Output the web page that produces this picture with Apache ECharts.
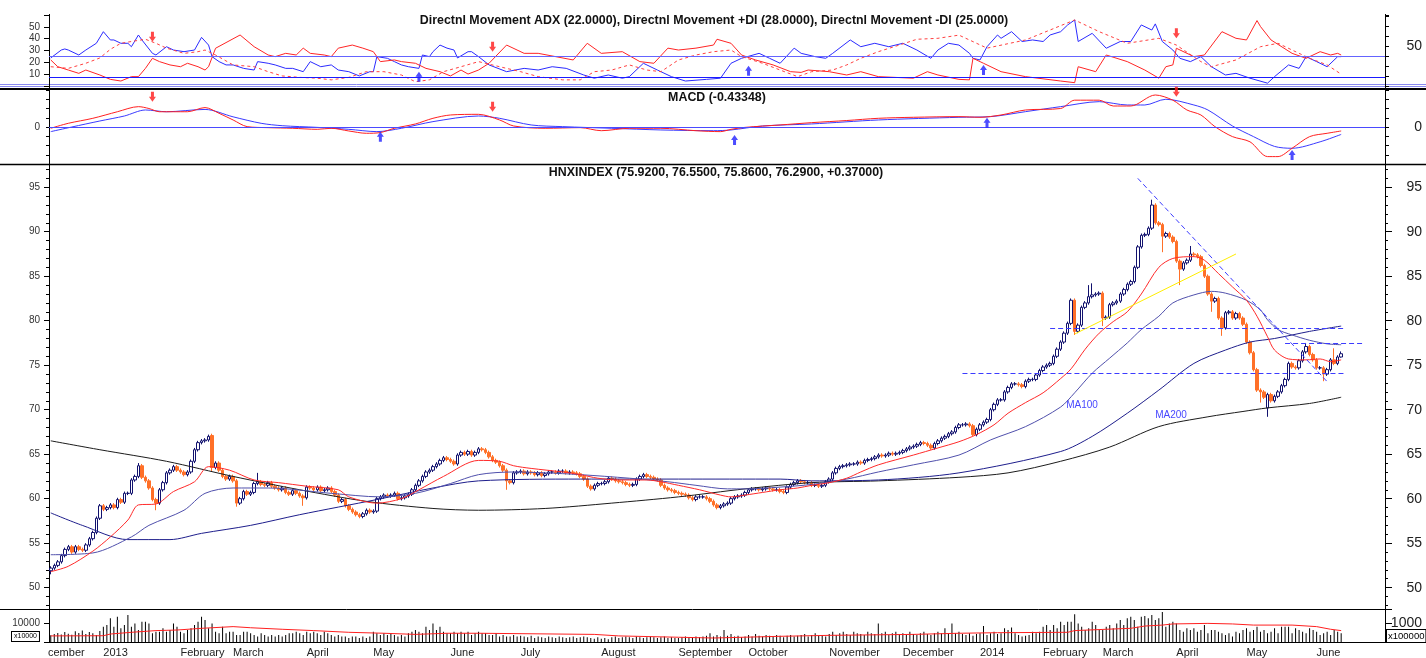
<!DOCTYPE html>
<html lang="en">
<head>
<meta charset="UTF-8">
<title>HNXINDEX</title>
<script src="https://cdn.jsdelivr.net/npm/echarts@6/dist/echarts.min.js"></script>
<style>
  html, body { margin: 0; padding: 0; background: #fff; }
  #main { width: 1426px; height: 658px; }
</style>
</head>
<body>
<div id="main"></div>
<script type="text/javascript">
// month ticks along the bottom axis (trading days per month)
var monthNames = ['December', '2013', 'February', 'March', 'April', 'May', 'June', 'July', 'August',
    'September', 'October', 'November', 'December', '2014', 'February', 'March', 'April', 'May', 'June'];
var monthDays = [15, 22, 15, 21, 19, 22, 20, 23, 22, 20, 23, 21, 22, 18, 17, 21, 20, 20, 8];

// daily candles
var closes = [
    52.2, 52.5, 52.9, 53.6, 54.3, 54.6, 54.0, 54.6, 54.3, 54.2,
    54.8, 55.5, 56.2, 57.8, 59.2, 58.8, 59.0, 59.3, 59.0, 59.9,
    59.6, 60.6, 60.6, 62.1, 62.5, 63.7, 62.4, 62.0, 61.2, 59.9,
    59.5, 61.0, 61.8, 62.9, 63.2, 63.6, 63.2, 63.0, 62.7, 63.0,
    64.2, 65.5, 66.3, 66.5, 66.6, 67.0, 63.5, 64.0, 63.2, 62.5,
    62.2, 62.5, 62.0, 59.5, 60.0, 60.8, 60.5, 60.7, 61.7, 61.9,
    61.6, 61.5, 61.8, 61.4, 61.2, 61.0, 61.2, 60.7, 60.5, 60.9,
    60.6, 60.3, 60.1, 61.3, 61.2, 61.0, 61.3, 60.9, 61.0, 61.2,
    60.8, 60.4, 59.7, 59.9, 59.2, 58.8, 58.5, 58.2, 58.0, 58.3,
    58.7, 58.5, 58.6, 60.0, 60.2, 60.4, 60.3, 60.4, 60.6, 60.0,
    60.1, 60.3, 60.5, 61.0, 61.5, 62.0, 62.5, 63.0, 63.2, 63.6,
    63.9, 64.3, 64.6, 64.4, 64.2, 63.9, 64.9, 65.2, 65.0, 65.3,
    64.9, 65.2, 65.6, 65.5, 65.2, 64.7, 64.3, 64.1, 63.7, 63.2,
    62.0, 61.8, 62.9, 63.0, 63.1, 62.8, 63.0, 62.9, 62.7, 62.9,
    62.6, 62.8, 63.0, 63.0, 62.9, 63.1, 63.1, 62.9, 63.0, 62.9,
    62.8, 62.5, 62.2, 61.4, 61.1, 61.5, 61.7, 61.7, 61.9, 62.3,
    62.2, 62.0, 61.9, 61.8, 61.6, 61.5, 61.6, 62.2, 62.5, 62.7,
    62.5, 62.4, 62.2, 62.1, 61.5, 61.2, 61.0, 60.9, 60.7, 60.6,
    60.5, 60.4, 60.1, 59.9, 60.2, 60.2, 60.2, 60.0, 59.7, 59.3,
    59.0, 59.2, 59.4, 59.5, 60.0, 60.2, 60.3, 60.4, 60.7, 61.0,
    61.1, 61.1, 61.0, 61.1, 61.2, 61.1, 61.0, 61.0, 60.8, 60.7,
    61.3, 61.6, 61.8, 62.0, 61.9, 61.8, 61.8, 61.5, 61.5, 61.4,
    61.5, 61.9, 62.2, 62.9, 63.4, 63.6, 63.7, 63.8, 63.9, 63.9,
    64.1, 64.0, 64.3, 64.4, 64.5, 64.7, 64.9, 64.8, 64.9, 65.1,
    65.0, 65.1, 65.2, 65.4, 65.6, 65.8, 65.9, 66.1, 66.3, 66.2,
    66.0, 65.7, 66.2, 66.5, 66.8, 67.0, 67.3, 67.5, 68.0, 68.3,
    68.3, 68.4, 68.2, 67.2, 67.8, 68.3, 68.6, 68.9, 70.0, 70.6,
    71.1, 71.1, 72.0, 72.5, 72.9, 72.9, 72.8, 72.6, 73.2, 73.4,
    73.4, 73.9, 74.4, 74.8, 75.0, 75.2, 76.0, 76.8, 77.6, 78.6,
    79.7, 82.3, 78.8, 79.5, 81.5, 82.0, 82.7, 82.9, 83.0, 83.1,
    80.3, 80.4, 81.8, 82.0, 82.2, 83.0, 83.5, 84.1, 84.4, 86.0,
    88.3, 89.6, 89.7, 90.4, 93.0, 91.0, 90.8, 89.5, 89.8, 89.4,
    88.9, 86.7, 85.8, 86.5, 86.8, 87.5, 87.4, 87.2, 86.2, 85.0,
    83.0, 82.2, 82.5, 80.3, 79.2, 80.9, 81.0, 80.3, 80.8, 80.3,
    79.6, 77.6, 76.4, 74.5, 72.2, 72.0, 71.4, 71.7, 71.0, 71.5,
    72.0, 72.7, 73.4, 75.2, 74.8, 74.7, 75.5, 76.5, 77.1, 76.2,
    75.6, 74.7, 74.7, 74.0, 74.5, 75.6, 75.2, 75.92, 76.29
];
var opens = [
    51.9, 52.2, 52.5, 52.9, 53.6, 54.3, 54.6, 54.0, 54.6, 54.3,
    54.2, 54.8, 55.5, 56.2, 57.8, 59.2, 58.8, 59.0, 59.3, 59.0,
    59.9, 59.6, 60.6, 60.6, 62.1, 62.5, 63.7, 62.4, 62.0, 61.2,
    59.9, 59.5, 61.0, 61.8, 62.9, 63.2, 63.6, 63.2, 63.0, 62.7,
    63.0, 64.2, 65.5, 66.3, 66.5, 66.6, 67.1, 63.5, 64.0, 63.2,
    62.5, 62.2, 62.5, 62.0, 59.5, 60.0, 60.8, 60.5, 60.7, 61.7,
    61.9, 61.6, 61.5, 61.8, 61.4, 61.2, 61.0, 61.2, 60.7, 60.5,
    60.9, 60.6, 60.3, 60.1, 61.3, 61.2, 61.0, 61.3, 60.9, 61.0,
    61.2, 60.8, 60.4, 59.7, 59.9, 59.2, 58.8, 58.5, 58.2, 58.0,
    58.3, 58.7, 58.5, 58.6, 60.0, 60.2, 60.4, 60.3, 60.4, 60.6,
    60.0, 60.1, 60.3, 60.5, 61.0, 61.5, 62.0, 62.5, 63.0, 63.2,
    63.6, 63.9, 64.3, 64.6, 64.4, 64.2, 63.9, 64.9, 65.2, 65.0,
    65.3, 64.9, 65.2, 65.6, 65.5, 65.2, 64.7, 64.3, 64.1, 63.7,
    63.2, 62.0, 61.8, 62.9, 63.0, 63.1, 62.8, 63.0, 62.9, 62.7,
    62.9, 62.6, 62.8, 63.0, 63.0, 62.9, 63.1, 63.1, 62.9, 63.0,
    62.9, 62.8, 62.5, 62.2, 61.4, 61.1, 61.5, 61.7, 61.7, 61.9,
    62.3, 62.2, 62.0, 61.9, 61.8, 61.6, 61.5, 61.6, 62.2, 62.5,
    62.7, 62.5, 62.4, 62.2, 62.1, 61.5, 61.2, 61.0, 60.9, 60.7,
    60.6, 60.5, 60.4, 60.1, 59.9, 60.2, 60.2, 60.2, 60.0, 59.7,
    59.3, 59.0, 59.2, 59.4, 59.5, 60.0, 60.2, 60.3, 60.4, 60.7,
    61.0, 61.1, 61.1, 61.0, 61.1, 61.2, 61.1, 61.0, 61.0, 60.8,
    60.7, 61.3, 61.6, 61.8, 62.0, 61.9, 61.8, 61.8, 61.5, 61.5,
    61.4, 61.5, 61.9, 62.2, 62.9, 63.4, 63.6, 63.7, 63.8, 63.9,
    63.9, 64.1, 64.0, 64.3, 64.4, 64.5, 64.7, 64.9, 64.8, 64.9,
    65.1, 65.0, 65.1, 65.2, 65.4, 65.6, 65.8, 65.9, 66.1, 66.3,
    66.2, 66.0, 65.7, 66.2, 66.5, 66.8, 67.0, 67.3, 67.5, 68.0,
    68.3, 68.3, 68.4, 68.2, 67.2, 67.8, 68.3, 68.6, 68.9, 70.0,
    70.6, 71.1, 71.1, 72.0, 72.5, 72.9, 72.9, 72.8, 72.6, 73.2,
    73.4, 73.4, 73.9, 74.4, 74.8, 75.0, 75.2, 76.0, 76.8, 77.6,
    78.6, 79.7, 82.3, 78.8, 79.5, 81.5, 82.0, 82.7, 82.9, 83.0,
    83.1, 80.3, 80.4, 81.8, 82.0, 82.2, 83.0, 83.5, 84.1, 84.4,
    86.0, 88.3, 89.6, 89.7, 90.4, 93.0, 91.0, 90.8, 89.5, 89.8,
    89.4, 88.9, 86.7, 85.8, 86.5, 86.8, 87.5, 87.4, 87.2, 86.2,
    85.0, 83.0, 82.2, 82.5, 80.3, 79.2, 80.9, 81.0, 80.3, 80.8,
    80.3, 79.6, 77.6, 76.4, 74.5, 72.2, 72.0, 70.2, 71.7, 71.0,
    71.5, 72.0, 72.7, 73.4, 75.2, 74.8, 74.7, 75.5, 76.5, 77.1,
    76.2, 75.6, 74.7, 74.7, 74.0, 74.5, 75.6, 75.2, 75.92
];
// long shadows that stick out: [day, price]
var highWicks = [[25, 64.0], [45, 67.2], [59, 62.9], [296, 84.0], [297, 84.2], [314, 93.6],
    [325, 88.4], [358, 77.5], [366, 76.9], [368, 76.55]];
var lowWicks = [[0, 51.5], [30, 58.7], [46, 63.0], [53, 59.1], [72, 59.2], [130, 61.0], [292, 78.4],
    [300, 79.4], [317, 87.7], [322, 84.0], [331, 81.0], [334, 78.3], [345, 70.8], [347, 69.2],
    [363, 73.2], [368, 75.86]];

var volumes = [
    3500, 4200, 4800, 3900, 5200, 4400, 3800, 5600, 4700, 6100, 4200, 5300, 4600, 3700, 5800,
    8000, 8900, 12500, 8000, 13300, 7200, 8900, 14200, 8000, 9800, 6300, 10700, 10700, 9800, 4600, 5400, 5400, 7200, 5400, 6300, 9800, 8000,
    5400, 4600, 6300, 7200, 8900, 10700, 13300, 11600, 7200, 9800, 5400, 4600, 8000, 4600, 5400,
    5400, 3700, 3700, 5400, 5400, 4600, 3700, 2900, 4600, 3700, 2900, 3700, 2900, 3700, 2900, 3700, 4600, 4600, 5400, 4600, 3700,
    5400, 4600, 5400, 4600, 3700, 5400, 4600, 3700, 2900, 3700, 2900, 2900, 2100, 2900, 2900, 2100, 2900, 2100, 2900,
    5400, 4600, 3700, 4600, 3700, 4600, 3700, 2900, 3700, 2900, 4600, 5400, 6300, 5400, 4600, 8000, 6300, 9800, 6300, 8000, 5400, 4600,
    4600, 5400, 4600, 5400, 4600, 5400, 3700, 4600, 5400, 4600, 4600, 3700, 3700, 4600, 2900, 3700, 2900, 2900, 3700, 2900,
    3300, 2900, 2500, 3300, 2100, 2900, 2500, 2100, 2900, 2500, 2100, 2900, 2500, 2100, 2500, 2900, 2100, 2500, 2900, 2500, 2100, 1700, 2500,
    1700, 2100, 1500, 2500, 2900, 2100, 2500, 2900, 2500, 2100, 2900, 2500, 2100, 2500, 2900, 2500, 2100, 2500, 2900, 2100, 2500, 2100,
    2100, 2500, 2900, 2100, 2500, 2900, 2500, 2900, 3300, 4600, 2900, 3700, 2900, 6300, 3300, 4200, 2900, 3300, 2500, 2900,
    3700, 2900, 4200, 3300, 2900, 3700, 3300, 2900, 3700, 3300, 2500, 3300, 3700, 2900, 3300, 3700, 4200, 2900, 3700, 4600, 3300, 3700, 2900,
    4200, 5400, 3700, 4600, 5400, 4200, 3700, 5400, 4600, 4200, 3700, 5400, 4600, 4200, 9800, 4600, 5400, 3700, 4600, 5400, 4200,
    4600, 3700, 5400, 4200, 3700, 4600, 5400, 4200, 3700, 4600, 5400, 4600, 7200, 4200, 9800, 4600, 5400, 4200, 3700, 4600, 3300, 4200,
    4600, 8400, 3700, 4600, 5400, 4200, 4600, 7200, 6300, 7600, 4600, 3700, 2900, 3300, 3700, 5400, 4600, 5400,
    8000, 8900, 6300, 8900, 7200, 10700, 8900, 10700, 10700, 14600, 9800, 8000, 6300, 7200, 10700, 8900, 6300,
    6300, 8000, 8900, 7200, 9800, 11600, 8900, 12500, 13300, 11600, 8000, 13300, 13700, 12500, 14200, 11600, 12500, 15800, 8000, 9800, 10700,
    9800, 6300, 5400, 7200, 6300, 7200, 5400, 6300, 8900, 4600, 6300, 6300, 5400, 4600, 3700, 4600, 2900, 5400, 4600, 6300,
    7200, 5400, 6300, 8000, 5400, 6300, 4600, 5400, 7200, 4600, 8000, 8000, 8000, 4600, 7200, 6300, 5400, 4600, 7200, 6300,
    5400, 3700, 4600, 5400, 3700, 6300, 5400, 4600
];
var volumeAvg = [[0, 3200], [15, 3300], [17, 4200], [23, 5100], [30, 6000], [36, 6300], [43, 7200], [52, 8100],
    [57, 7500], [66, 6700], [75, 6000], [85, 5100], [95, 4600], [104, 4000], [113, 4600], [122, 4600],
    [155, 4000], [162, 3200], [179, 2500], [189, 2100], [208, 3000], [222, 3500], [246, 4000], [259, 4600],
    [270, 4900], [290, 5100], [292, 6000], [301, 6700], [308, 7200], [312, 8400], [317, 8900], [320, 9500],
    [330, 9800], [337, 9500], [343, 8900], [354, 8900], [361, 8100], [365, 6700], [368, 6000]];

// moving averages: [day, value]
var ma20 = [[0, 51.8], [5, 52.4], [12, 54.1], [17, 55.7], [22, 57.6], [25, 59.3], [30, 59.4], [35, 60.8], [41, 61.9],
    [45, 63.6], [51, 63.2], [58, 62.1], [65, 61.8], [73, 61.4], [82, 61.0], [85, 60.2], [93, 59.5], [100, 60.0],
    [105, 61.0], [112, 62.5], [122, 64.3], [128, 64.2], [132, 63.7], [137, 63.4], [146, 63.0], [151, 62.7],
    [156, 62.3], [162, 62.1], [170, 62.1], [174, 61.9], [179, 61.5], [185, 61.0], [191, 60.4], [194, 60.2],
    [198, 60.4], [203, 60.7], [208, 61.0], [213, 61.2], [217, 61.5], [222, 61.8], [227, 62.3], [231, 63.0],
    [236, 63.8], [246, 64.9], [253, 65.7], [259, 66.4], [264, 67.2], [269, 68.3], [273, 69.6], [278, 70.8],
    [283, 71.9], [288, 73.5], [291, 74.6], [295, 76.8], [299, 78.6], [303, 79.9], [307, 81.0], [311, 83.0],
    [316, 86.0], [320, 87.0], [326, 87.2], [329, 86.8], [333, 85.3], [337, 83.8], [341, 82.3], [344, 80.5],
    [347, 78.2], [349, 76.7], [353, 75.7], [358, 75.6], [362, 75.7], [365, 75.4], [368, 75.6]];
var ma50 = [[0, 53.7], [12, 53.9], [23, 55.7], [28, 57.0], [38, 58.7], [44, 60.6], [52, 61.2], [62, 61.2], [80, 60.6],
    [94, 60.2], [104, 60.6], [114, 61.7], [122, 62.7], [132, 63.0], [141, 62.9], [151, 62.7], [165, 62.3],
    [176, 61.9], [184, 61.5], [193, 61.1], [198, 61.1], [208, 61.3], [217, 61.6], [227, 62.2], [236, 63.0],
    [246, 63.8], [259, 64.9], [268, 66.6], [278, 68.1], [288, 70.3], [292, 71.9], [297, 74.1], [302, 75.8],
    [307, 77.5], [311, 79.0], [316, 80.5], [320, 82.0], [326, 82.9], [331, 83.3], [335, 83.1], [341, 82.3],
    [345, 81.2], [347, 80.1], [350, 79.0], [354, 78.4], [359, 77.8], [364, 77.4], [368, 77.3]];
var ma100 = [[0, 58.4], [9, 57.0], [22, 55.4], [34, 55.4], [43, 56.1], [57, 57.0], [71, 58.2], [93, 59.9], [109, 61.2],
    [122, 62.0], [151, 62.2], [179, 62.2], [208, 62.2], [217, 62.0], [236, 62.1], [259, 62.9], [288, 65.3],
    [297, 67.0], [307, 69.6], [316, 72.2], [326, 75.2], [335, 76.7], [342, 77.6], [349, 78.0], [359, 78.8], [368, 79.4]];
var ma200 = [[0, 66.5], [14, 65.5], [33, 64.2], [52, 62.5], [71, 61.0], [90, 59.7], [109, 58.9], [122, 58.7], [141, 58.9],
    [160, 59.5], [179, 60.2], [198, 61.1], [217, 61.8], [236, 62.0], [259, 62.4], [273, 62.9], [288, 64.2],
    [302, 65.8], [316, 68.1], [330, 69.2], [340, 69.8], [347, 70.2], [359, 70.7], [368, 71.4]];

// drawn trend lines: [day, price] end points
var downTrend = [[310, 96.0], [364, 73.15]];
var riseLine = [[292, 78.5], [338, 87.5]];
var level79 = [[285, 79.15], [369, 79.15]];
var level74 = [[260, 74.05], [369, 74.05]];
var level77 = [[352, 77.47], [374, 77.47]];

// directional movement panel
var diMinus = [[0, 23.7], [3, 30.4], [4, 31.3], [5, 30.4], [8, 26.2], [10, 30.4], [13, 36.1], [15, 45.9], [17, 38.9],
    [18, 38.9], [20, 36.1], [22, 36.1], [23, 33.2], [25, 43.1], [26, 38.9], [29, 27.6], [30, 26.2], [33, 33.2],
    [35, 30.4], [38, 29.0], [41, 30.4], [43, 41.1], [45, 34.6], [46, 24.8], [48, 20.6], [50, 17.8], [52, 17.8],
    [55, 14.9], [58, 13.5], [59, 20.6], [62, 19.2], [64, 17.8], [67, 14.9], [69, 14.9], [72, 12.1], [74, 20.6],
    [77, 16.3], [80, 17.8], [82, 13.5], [85, 12.1], [88, 8.5], [91, 12.1], [92, 12.1], [93, 24.8], [96, 23.4],
    [98, 20.6], [100, 17.8], [102, 16.3], [105, 14.9], [106, 26.2], [108, 24.8], [109, 29.0], [111, 34.6],
    [113, 32.0], [115, 30.4], [116, 23.7], [119, 29.0], [120, 29.0], [122, 24.8], [125, 17.8], [130, 12.1],
    [135, 14.9], [139, 13.5], [143, 16.3], [147, 14.9], [152, 9.3], [155, 6.6], [159, 9.3], [163, 6.6],
    [165, 7.9], [169, 19.2], [173, 13.5], [177, 7.9], [181, 4.2], [187, 5.6], [191, 6.6], [194, 19.2],
    [197, 23.4], [202, 27.6], [205, 23.4], [208, 19.2], [212, 32.0], [214, 27.6], [218, 24.8], [221, 23.4],
    [223, 27.6], [228, 38.9], [231, 33.2], [235, 36.1], [239, 33.2], [243, 36.1], [247, 30.4], [251, 23.4],
    [253, 30.4], [256, 36.1], [259, 34.6], [262, 27.6], [263, 23.4], [265, 22.0], [267, 33.2], [270, 43.1],
    [271, 40.3], [274, 45.9], [277, 37.6], [280, 38.9], [283, 37.6], [285, 43.1], [288, 45.9], [290, 51.6],
    [292, 55.8], [293, 37.6], [297, 44.5], [301, 31.9], [305, 37.6], [308, 37.6], [311, 51.6], [314, 47.3],
    [315, 52.5], [317, 37.6], [320, 30.4], [322, 23.4], [325, 20.6], [328, 24.8], [331, 16.3], [335, 9.3],
    [338, 10.7], [342, 6.6], [347, 2.4], [349, 7.9], [353, 17.8], [356, 14.9], [358, 24.8], [361, 20.6],
    [364, 16.3], [367, 24.8], [368, 24.8]];
var diPlus = [[0, 22.0], [2, 16.3], [5, 13.5], [8, 10.7], [10, 13.5], [14, 9.3], [17, 5.6], [20, 4.2], [23, 7.9],
    [25, 7.9], [27, 14.9], [29, 23.4], [31, 20.6], [34, 17.8], [37, 16.3], [39, 19.2], [42, 16.3], [44, 13.5],
    [45, 16.3], [47, 31.9], [54, 43.1], [58, 33.2], [62, 26.2], [64, 24.8], [67, 27.6], [70, 26.2], [72, 32.0],
    [74, 27.6], [78, 26.2], [80, 24.8], [82, 32.0], [86, 34.6], [89, 32.0], [92, 29.0], [94, 20.6], [98, 22.0],
    [100, 20.6], [104, 19.2], [107, 14.9], [111, 12.1], [114, 8.5], [117, 13.5], [119, 10.1], [122, 13.5],
    [125, 19.2], [130, 34.6], [135, 27.6], [139, 27.6], [144, 24.8], [149, 22.0], [153, 36.1], [157, 27.6],
    [163, 29.0], [168, 20.6], [172, 19.2], [176, 32.0], [179, 30.4], [184, 32.0], [189, 34.6], [190, 39.5],
    [194, 36.1], [197, 26.2], [201, 22.0], [206, 17.8], [211, 12.1], [214, 11.5], [216, 13.5], [222, 12.1],
    [227, 9.3], [231, 12.1], [236, 7.9], [246, 6.6], [250, 12.1], [253, 9.3], [259, 5.6], [262, 5.2],
    [263, 23.4], [266, 19.2], [271, 12.1], [278, 7.9], [288, 4.2], [292, 2.8], [293, 16.3], [298, 12.1],
    [301, 26.2], [307, 20.6], [312, 13.5], [316, 6.6], [318, 16.3], [320, 17.8], [321, 31.9], [326, 24.8],
    [329, 26.2], [334, 45.9], [338, 40.3], [341, 38.9], [344, 55.3], [345, 50.2], [348, 38.9], [354, 27.6],
    [358, 23.4], [362, 29.0], [365, 26.2], [367, 27.6], [368, 26.2]];
var adx = [[0, 16.3], [5, 14.9], [10, 19.2], [14, 23.7], [17, 31.0], [20, 36.1], [23, 37.6], [27, 39.5], [30, 36.1],
    [33, 32.0], [38, 27.6], [42, 29.0], [44, 30.4], [47, 26.2], [52, 17.8], [58, 16.3], [62, 12.1], [66, 8.5],
    [71, 7.3], [76, 6.6], [80, 5.2], [85, 7.3], [90, 12.1], [95, 12.1], [100, 9.3], [104, 3.6], [108, 5.2],
    [112, 12.1], [117, 16.3], [122, 20.6], [128, 16.3], [134, 12.1], [139, 7.9], [146, 5.2], [151, 5.2],
    [155, 12.1], [160, 13.5], [165, 17.8], [170, 13.5], [174, 12.1], [179, 22.0], [184, 26.2], [189, 29.0],
    [194, 30.4], [197, 24.8], [203, 19.2], [208, 13.5], [213, 7.9], [217, 12.1], [223, 13.5], [227, 17.8],
    [231, 23.4], [236, 29.0], [242, 34.6], [247, 39.5], [253, 40.3], [259, 43.0], [267, 32.0], [278, 38.9],
    [292, 55.8], [299, 45.9], [307, 36.1], [316, 40.3], [321, 34.6], [328, 20.6], [331, 16.3], [338, 22.0],
    [345, 33.2], [350, 36.1], [354, 30.4], [359, 23.4], [364, 17.8], [368, 10.0]];
var adxLevels = [25, 7.6];
var adxDownArrows = [[29, 41.7], [126, 33.2], [321, 44.5]];
var adxUpArrows = [[105, 7.9], [199, 12.9], [266, 13.5]];

// MACD panel
var macdLine = [[0, -0.14], [5, 0.4], [12, 0.94], [19, 1.65], [25, 2.2], [28, 2.0], [31, 1.65], [35, 1.65], [39, 1.65],
    [44, 2.1], [48, 1.48], [52, 0.76], [56, 0.04], [62, -0.07], [69, -0.14], [76, -0.25], [80, -0.14], [85, -0.43],
    [90, -0.68], [94, -0.6], [98, -0.14], [104, 0.33], [109, 0.94], [114, 1.3], [122, 1.37], [128, 0.76],
    [132, 0.11], [141, -0.14], [151, -0.07], [157, -0.4], [165, -0.14], [174, -0.14], [184, -0.4], [191, -0.5],
    [194, -0.25], [198, -0.04], [208, 0.22], [217, 0.47], [227, 0.7], [236, 0.94], [246, 1.05], [259, 1.12],
    [265, 1.05], [271, 1.3], [278, 1.84], [288, 2.0], [292, 2.9], [299, 2.9], [303, 2.27], [308, 2.27],
    [315, 3.46], [320, 2.9], [324, 1.84], [328, 1.3], [332, 0.04], [337, -1.04], [342, -1.6], [347, -3.2],
    [350, -3.2], [354, -2.3], [359, -1.04], [364, -0.68], [368, -0.43]];
var macdSignal = [[0, -0.5], [6, 0.0], [14, 0.65], [21, 1.19], [27, 1.84], [33, 1.65], [44, 1.9], [52, 1.1], [60, 0.4],
    [66, 0.14], [76, -0.04], [85, -0.25], [93, -0.5], [100, -0.14], [109, 0.58], [122, 1.19], [128, 0.94],
    [137, 0.22], [146, 0.04], [160, -0.14], [174, -0.32], [189, -0.4], [194, -0.32], [203, 0.11], [217, 0.33],
    [236, 0.76], [259, 1.05], [268, 1.12], [278, 1.66], [288, 2.2], [299, 2.74], [307, 2.38], [312, 2.38],
    [318, 3.0], [326, 2.38], [330, 1.84], [337, 0.11], [343, -1.04], [349, -2.1], [354, -2.3], [362, -1.6], [368, -0.8]];
var macdDownArrows = [[29, 3.28], [126, 2.19], [321, 3.82]];
var macdUpArrows = [[94, -1.05], [195, -1.41], [267, 0.46], [354, -3.03]];

// axis labels
var adxTickLabels = [10, 20, 30, 40, 50];
var priceTicks = [50, 55, 60, 65, 70, 75, 80, 85, 90, 95];

// ---- build ----
var slotCount = 381;            // trading days plus empty room at the right
var tickLabels = [];
monthDays.forEach(function (n, m) {
    for (var k = 0; k < n; k++) {
        tickLabels.push(k === 0 && m > 0 ? monthNames[m] : '');
    }
});
while (tickLabels.length < slotCount) tickLabels.push('');
var cats = tickLabels.map(function (t, i) { return 'd' + i; });

var wick = 0.2;
var candleData = closes.map(function (c, i) {
    var o = opens[i];
    return [o, c, Math.min(o, c) - wick, Math.max(o, c) + wick];
});
highWicks.forEach(function (p) { candleData[p[0]][3] = p[1]; });
lowWicks.forEach(function (p) { candleData[p[0]][2] = p[1]; });

var minorPriceTicks = [];
for (var v = 48; v <= 97; v++) minorPriceTicks.push(v);

var FONT = 'Liberation Sans, Arial, sans-serif';
var DOWN = 'path://M2,0 L5,0 L5,5 L7,5 L3.5,10 L0,5 L2,5 Z';
var UP = 'path://M3.5,0 L7,5 L5,5 L5,10 L2,10 L2,5 L0,5 Z';

function plainX(grid) {
    return { type: 'category', gridIndex: grid, data: cats, show: false };
}
function sideAxis(grid, pos, cfg) {
    var right = pos === 'right';
    var a = {
        type: 'value', gridIndex: grid, position: pos, scale: false,
        axisLine: { show: false },
        splitLine: { show: false },
        axisTick: { show: true, length: 4, lineStyle: { color: '#000' } },
        axisLabel: {
            fontFamily: FONT,
            fontSize: right ? 14 : 10,
            color: right ? '#222' : '#333',
            margin: right ? 37 : 9,
            align: 'right'
        }
    };
    for (var k in cfg) {
        if (k === 'axisLabel' || k === 'axisTick') {
            for (var j in cfg[k]) a[k][j] = cfg[k][j];
        } else {
            a[k] = cfg[k];
        }
    }
    return a;
}
function thinLine(data, color, xi, yi, extra) {
    var s = {
        type: 'line', xAxisIndex: xi, yAxisIndex: yi, data: data,
        symbol: 'none', silent: true, animation: false,
        lineStyle: { color: color, width: 1 }
    };
    for (var k in extra) s[k] = extra[k];
    return s;
}
function arrows(data, sym, color, xi, yi) {
    return {
        type: 'scatter', xAxisIndex: xi, yAxisIndex: yi, data: data,
        symbol: sym, symbolSize: [7, 10], silent: true,
        itemStyle: { color: color }, z: 5
    };
}
function dashed() {
    return { color: '#3c3cff', type: [5, 3], width: 1, opacity: 1 };
}
function seg(pair, style) {
    return [
        { coord: pair[0], lineStyle: style },
        { coord: pair[1], lineStyle: style }
    ];
}

var titleFont = 'bold 12.4px ' + FONT;

var option = {
    animation: false,
    backgroundColor: '#ffffff',
    textStyle: { fontFamily: FONT },
    grid: [
        { left: 49, right: 41, top: 15, height: 71 },
        { left: 49, right: 41, top: 90, height: 74 },
        { left: 49, right: 41, top: 165, height: 444 },
        { left: 49, right: 41, top: 609, height: 33 }
    ],
    xAxis: [
        plainX(0), plainX(1), plainX(2),
        {
            type: 'category', gridIndex: 3, data: cats, position: 'bottom',
            axisLine: { lineStyle: { color: '#000', width: 1 } },
            axisTick: {
                interval: function (i) { return tickLabels[i] !== ''; },
                length: 15, lineStyle: { color: '#000' }
            },
            axisLabel: {
                interval: function (i) { return tickLabels[i] !== ''; },
                formatter: function (val, i) { return tickLabels[i]; },
                align: 'left', margin: 5, fontSize: 11, color: '#222', fontFamily: FONT
            }
        },
        {
            type: 'category', gridIndex: 3, data: cats, position: 'bottom',
            axisLine: { show: false },
            axisTick: {
                interval: function (i) { return i % 5 === 0; },
                length: 5, lineStyle: { color: '#000' }
            },
            axisLabel: { show: false }
        }
    ],
    yAxis: [
        // 0,1 directional movement
        sideAxis(0, 'left', { min: 0, max: 60, interval: 10, axisTick: { length: 5 },
            axisLabel: { formatter: function (v) { return adxTickLabels.indexOf(v) >= 0 ? v : ''; } } }),
        sideAxis(0, 'right', { min: 0, max: 88.75, interval: 12.5,
            axisLabel: { formatter: function (v) { return v === 50 ? '50' : ''; } } }),
        // 2,3 MACD
        sideAxis(1, 'left', { min: -4, max: 4, interval: 1, axisTick: { length: 3 },
            axisLabel: { formatter: function (v) { return v === 0 ? '0' : ''; } } }),
        sideAxis(1, 'right', { min: -4, max: 4, interval: 1, axisTick: { length: 4 },
            axisLabel: { formatter: function (v) { return v === 0 ? '0' : ''; } } }),
        // 4..7 price
        sideAxis(2, 'left', { min: 47.6, max: 97.5,
            axisTick: { length: 5, customValues: priceTicks },
            axisLabel: { customValues: priceTicks } }),
        sideAxis(2, 'left', { min: 47.6, max: 97.5,
            axisTick: { length: 3, customValues: minorPriceTicks },
            axisLabel: { show: false } }),
        sideAxis(2, 'right', { min: 47.6, max: 97.5,
            axisTick: { length: 7, customValues: priceTicks },
            axisLabel: { customValues: priceTicks } }),
        sideAxis(2, 'right', { min: 47.6, max: 97.5,
            axisTick: { length: 3, customValues: minorPriceTicks },
            axisLabel: { show: false } }),
        // 8,9 volume
        sideAxis(3, 'left', { min: 0, max: 17368, interval: 10000, axisTick: { length: 5 },
            axisLabel: { formatter: function (v) { return v === 10000 ? '10000' : ''; } } }),
        sideAxis(3, 'right', { min: 0, max: 17368, interval: 10000, axisTick: { length: 7 },
            axisLabel: { formatter: function (v) { return v === 10000 ? '1000' : ''; } } })
    ],
    series: [
        // directional movement
        thinLine(diMinus, '#2b2bff', 0, 0, {
            markLine: {
                silent: true, symbol: ['none', 'none'], label: { show: false },
                data: [
                    { yAxis: adxLevels[0], lineStyle: { color: '#6464ff', type: 'solid', width: 1 } },
                    { yAxis: adxLevels[1], lineStyle: { color: '#1a1aff', type: 'solid', width: 1 } }
                ]
            }
        }),
        thinLine(diPlus, '#ff2525', 0, 0),
        thinLine(adx, '#ff4040', 0, 0, { lineStyle: { color: '#ff4040', width: 1, type: [3, 3] } }),
        arrows(adxDownArrows, DOWN, '#ff1a1a', 0, 0),
        arrows(adxUpArrows, UP, '#2020ff', 0, 0),

        // MACD
        thinLine(macdSignal, '#3a3aff', 1, 2, {
            smooth: 0.3,
            markLine: {
                silent: true, symbol: ['none', 'none'], label: { show: false },
                data: [{ yAxis: 0, lineStyle: { color: '#4a4aff', type: 'solid', width: 1 } }]
            }
        }),
        thinLine(macdLine, '#ff2020', 1, 2, { smooth: 0.3 }),
        arrows(macdDownArrows, DOWN, '#ff1a1a', 1, 2),
        arrows(macdUpArrows, UP, '#2020ff', 1, 2),

        // price
        {
            type: 'candlestick', xAxisIndex: 2, yAxisIndex: 4, data: candleData,
            barWidth: 3, silent: true,
            itemStyle: {
                color: '#ffffff', color0: '#ff7028',
                borderColor: '#12126e', borderColor0: '#ff7028', borderColorDoji: '#12126e',
                borderWidth: 1
            }
        },
        {
            // hand-drawn trend lines
            type: 'line', xAxisIndex: 2, yAxisIndex: 4, data: [], silent: true,
            markLine: {
                silent: true, symbol: ['none', 'none'], label: { show: false },
                lineStyle: dashed(),
                emphasis: { disabled: true },
                data: [
                    seg(downTrend, dashed()),
                    seg(level79, dashed()),
                    seg(level74, dashed()),
                    seg(level77, dashed()),
                    seg(riseLine, { color: '#ffee00', type: 'solid', width: 1, opacity: 1 })
                ]
            }
        },
        thinLine(ma200, '#1c1c1c', 2, 4, { smooth: 0.3 }),
        thinLine(ma100, '#1e1e8c', 2, 4, { smooth: 0.3 }),
        thinLine(ma50, '#5050ac', 2, 4, { smooth: 0.3 }),
        thinLine(ma20, '#ff2a2a', 2, 4, { smooth: 0.3 }),

        // volume
        {
            type: 'bar', xAxisIndex: 3, yAxisIndex: 8, data: volumes,
            barWidth: 1, silent: true, itemStyle: { color: '#000' }
        },
        thinLine(volumeAvg, '#ff2020', 3, 8)
    ],
    graphic: [
        { type: 'line', silent: true, shape: { x1: 0, y1: 84.5, x2: 1426, y2: 84.5 }, style: { stroke: '#8a8af0', lineWidth: 1 } },
        { type: 'line', silent: true, shape: { x1: 0, y1: 86.5, x2: 1426, y2: 86.5 }, style: { stroke: '#8a8af0', lineWidth: 1 } },
        { type: 'line', silent: true, shape: { x1: 0, y1: 89, x2: 1426, y2: 89 }, style: { stroke: '#000', lineWidth: 2 } },
        { type: 'line', silent: true, shape: { x1: 0, y1: 164.5, x2: 1426, y2: 164.5 }, style: { stroke: '#000', lineWidth: 1.5 } },
        { type: 'line', silent: true, shape: { x1: 0, y1: 609.5, x2: 1385, y2: 609.5 }, style: { stroke: '#000', lineWidth: 1 } },
        { type: 'line', silent: true, shape: { x1: 49.5, y1: 14, x2: 49.5, y2: 642 }, style: { stroke: '#000', lineWidth: 1 } },
        { type: 'line', silent: true, shape: { x1: 1385.5, y1: 14, x2: 1385.5, y2: 642 }, style: { stroke: '#000', lineWidth: 1 } },
        {
            type: 'text', x: 714, y: 21, silent: true,
            style: { text: 'Directnl Movement ADX (22.0000), Directnl Movement +DI (28.0000), Directnl Movement -DI (25.0000)',
                font: titleFont, fill: '#111', align: 'center', verticalAlign: 'middle' }
        },
        {
            type: 'text', x: 717, y: 98, silent: true,
            style: { text: 'MACD (-0.43348)', font: titleFont, fill: '#111', align: 'center', verticalAlign: 'middle' }
        },
        {
            type: 'text', x: 716, y: 173, silent: true,
            style: { text: 'HNXINDEX (75.9200, 76.5500, 75.8600, 76.2900, +0.37000)', font: titleFont,
                fill: '#111', align: 'center', verticalAlign: 'middle' }
        },
        {
            type: 'text', x: 1082, y: 405.5, silent: true,
            style: { text: 'MA100', font: '10px ' + FONT, fill: '#4848ff', align: 'center', verticalAlign: 'middle' }
        },
        {
            type: 'text', x: 1171, y: 415.5, silent: true,
            style: { text: 'MA200', font: '10px ' + FONT, fill: '#4848ff', align: 'center', verticalAlign: 'middle' }
        },
        {
            type: 'text', x: 48, y: 652.5, silent: true,
            style: { text: 'cember', font: '11px ' + FONT, fill: '#222', align: 'left', verticalAlign: 'middle' }
        },
        {
            type: 'text', x: 12, y: 632, silent: true,
            style: { text: 'x10000', font: '7px ' + FONT, fill: '#000', backgroundColor: '#fff',
                borderColor: '#000', borderWidth: 1, padding: [1, 2, 1, 2] }
        },
        {
            type: 'text', x: 1387, y: 630, silent: true,
            style: { text: 'x100000', font: '9.5px ' + FONT, fill: '#000', backgroundColor: '#fff',
                borderColor: '#000', borderWidth: 1, padding: [1, 1, 1, 1] }
        }
    ]
};

var myChart = echarts.init(document.getElementById('main'));
myChart.setOption(option);
</script>
</body>
</html>
